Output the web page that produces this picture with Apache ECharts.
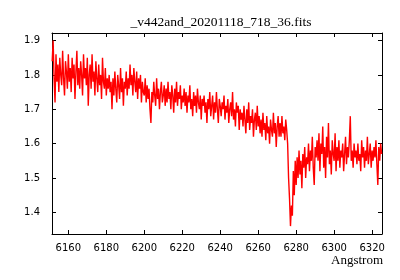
<!DOCTYPE html>
<html>
<head>
<meta charset="utf-8">
<script src="https://cdn.jsdelivr.net/npm/echarts@6/dist/echarts.min.js"></script>
<style>html,body{margin:0;padding:0;background:#fff}#c{width:400px;height:280px}</style>
</head>
<body>
<div id="c"></div>
<script>
var titleText = "_v442and_20201118_718_36.fits";
var xName = "Angstrom";
var waveStart = 6151.5;
var waveStep = 0.5;
var xTicks = [6160, 6180, 6200, 6220, 6240, 6260, 6280, 6300, 6320];
var yTicks = [1.4, 1.5, 1.6, 1.7, 1.8, 1.9];
var flux = [
1.84,1.90,1.79,1.72,1.86,1.78,1.83,1.75,1.85,1.80,1.77,1.87,1.79,1.74,1.84,1.81,1.76,1.86,1.78,1.82,
1.75,1.85,1.79,1.83,1.73,1.81,1.87,1.77,1.82,1.76,1.84,1.80,1.74,1.86,1.79,1.82,1.77,1.85,1.71,1.80,
1.83,1.76,1.86,1.78,1.81,1.74,1.84,1.79,1.75,1.83,1.77,1.80,1.73,1.85,1.78,1.76,1.82,1.74,1.79,1.76,
1.80,1.75,1.78,1.70,1.79,1.74,1.81,1.76,1.72,1.80,1.77,1.73,1.82,1.75,1.79,1.71,1.78,1.76,1.81,1.74,
1.79,1.76,1.83,1.77,1.80,1.74,1.82,1.78,1.75,1.81,1.73,1.79,1.76,1.80,1.72,1.78,1.75,1.74,1.79,1.72,
1.77,1.73,1.76,1.70,1.66,1.75,1.72,1.78,1.74,1.71,1.79,1.73,1.76,1.70,1.75,1.78,1.72,1.74,1.77,1.71,
1.76,1.72,1.78,1.73,1.75,1.70,1.77,1.74,1.69,1.76,1.72,1.78,1.71,1.75,1.73,1.77,1.70,1.74,1.72,1.76,
1.71,1.75,1.69,1.74,1.72,1.77,1.70,1.73,1.68,1.75,1.71,1.74,1.69,1.76,1.72,1.70,1.74,1.67,1.73,1.71,
1.74,1.69,1.72,1.66,1.73,1.70,1.75,1.68,1.71,1.74,1.67,1.72,1.69,1.75,1.70,1.66,1.73,1.71,1.68,1.72,
1.70,1.74,1.67,1.71,1.69,1.73,1.66,1.70,1.72,1.68,1.75,1.67,1.70,1.65,1.72,1.69,1.71,1.64,1.70,1.67,
1.69,1.65,1.71,1.67,1.63,1.70,1.66,1.72,1.64,1.68,1.66,1.70,1.62,1.67,1.69,1.64,1.71,1.65,1.68,1.63,
1.67,1.62,1.69,1.64,1.66,1.61,1.68,1.63,1.65,1.60,1.67,1.64,1.62,1.69,1.63,1.66,1.59,1.65,1.68,1.62,
1.66,1.62,1.68,1.63,1.65,1.61,1.67,1.64,1.60,1.50,1.44,1.36,1.42,1.39,1.52,1.45,1.55,1.48,1.56,1.50,
1.58,1.51,1.55,1.47,1.57,1.53,1.59,1.50,1.56,1.54,1.60,1.52,1.58,1.55,1.62,1.53,1.48,1.59,1.56,1.61,
1.55,1.63,1.52,1.60,1.57,1.65,1.53,1.59,1.50,1.62,1.56,1.66,1.54,1.58,1.51,1.61,1.57,1.55,1.63,1.52,
1.59,1.55,1.61,1.53,1.58,1.56,1.60,1.52,1.57,1.62,1.54,1.59,1.56,1.61,1.68,1.55,1.58,1.53,1.60,1.56,
1.58,1.54,1.60,1.55,1.57,1.52,1.61,1.56,1.59,1.53,1.58,1.55,1.62,1.54,1.57,1.60,1.53,1.58,1.55,1.59,
1.56,1.61,1.54,1.48,1.59,1.55,1.60,1.57
];

var points = flux.map(function (v, i) { return [waveStart + waveStep * i, v]; });

var tickFont = { fontFamily: 'DejaVu Sans', fontSize: 10, color: '#000' };
function xAxisCfg(show, pos) {
  return {
    type: 'value', position: pos, min: 6151.4, max: 6325.2, interval: 20,
    axisLine: { show: true, onZero: false, lineStyle: { color: '#000', width: 1 } },
    axisTick: { show: true, inside: true, length: 4, lineStyle: { color: '#000' },
      customValues: xTicks },
    axisLabel: Object.assign({ show: show, margin: 9, customValues: xTicks,
      formatter: function (v) { return String(Math.round(v)); } }, tickFont),
    splitLine: { show: false }
  };
}
function yAxisCfg(show, pos) {
  return {
    type: 'value', position: pos, min: 1.337, max: 1.922,
    axisLine: { show: true, onZero: false, lineStyle: { color: '#000', width: 1 } },
    axisTick: { show: true, inside: true, length: 4, lineStyle: { color: '#000' },
      customValues: yTicks },
    axisLabel: Object.assign({ show: show, margin: 12, customValues: yTicks,
      formatter: function (v) { return v.toFixed(1); } }, tickFont),
    splitLine: { show: false }
  };
}

var chart = echarts.init(document.getElementById('c'), null, { renderer: 'canvas' });
chart.setOption({
  animation: false,
  backgroundColor: '#fff',
  title: {
    text: titleText, left: 216, top: 10, textAlign: 'center',
    textStyle: { fontFamily: 'Liberation Serif', fontSize: 13.5, fontWeight: 'normal', color: '#000' }
  },
  grid: { left: 52, right: 18, top: 33, bottom: 46 },
  xAxis: [xAxisCfg(true, 'bottom'), xAxisCfg(false, 'top')],
  yAxis: [yAxisCfg(true, 'left'), yAxisCfg(false, 'right')],
  graphic: [{
    type: 'text', right: 17, top: 254,
    style: { text: xName, fontFamily: 'Liberation Serif', fontSize: 13, fill: '#000' }
  }],
  series: [{
    type: 'line', data: points, xAxisIndex: 0, yAxisIndex: 0,
    showSymbol: false, symbol: 'none',
    lineStyle: { color: '#ff0000', width: 1.4 }
  }]
});
</script>
</body>
</html>
